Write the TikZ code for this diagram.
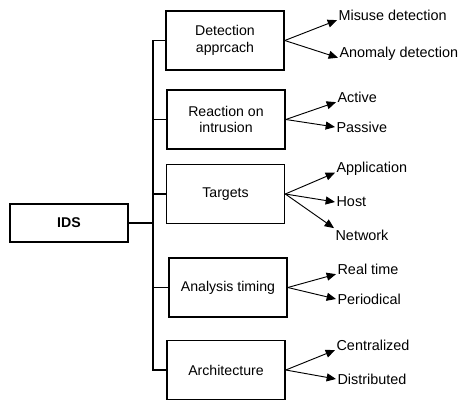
\documentclass[tikz,border=0pt]{standalone}
\usepackage{fontspec}
\setmainfont{Liberation Sans}
\usepackage{tikz}
\usetikzlibrary{arrows.meta}

\begin{document}
\begin{tikzpicture}[x=0.75pt, y=-0.75pt,
    catbox/.style={draw, line width=1.2pt, rectangle, minimum width=88.5pt, minimum height=44pt, align=center, font=\fontsize{10.6}{12.5}\selectfont},
    leaf/.style={anchor=west, inner sep=1pt, font=\fontsize{10.8}{12}\selectfont},
    branch/.style={-{Triangle[length=7pt, width=6pt]}, line width=0.7pt}]
      \useasboundingbox (0,0) rectangle (458,403);
      \node[draw, line width=1.2pt, rectangle, minimum width=88.5pt, minimum height=28.5pt, font=\fontsize{10.6}{12}\selectfont\bfseries] (ids) at (69,223) {IDS};
      \coordinate (trunk) at (153,223);
      \node[catbox] (det) at (225,40.5) {Detection\\apprcach};
      \node[catbox] (reac) at (226,119.5) {Reaction on\\intrusion};
      \node[catbox] (targ) at (225.5,194) {Targets};
      \node[catbox] (anal) at (228,287.5) {Analysis timing};
      \node[catbox] (arch) at (226,370) {Architecture};
      \draw[line width=1.4pt] (ids.east) -- (ids.east -| trunk);
      \draw[line width=1.4pt] (det.west) -| (trunk |- arch.west) -- (arch.west);
      \draw[line width=1pt] (reac.west) -- (reac.west -| trunk);
      \draw[line width=1pt] (targ.west) -- (targ.west -| trunk);
      \draw[line width=1pt] (anal.west) -- (anal.west -| trunk);
      \node[leaf] (misuse) at (337,15) {Misuse detection};
      \node[leaf] (anomaly) at (338,54) {Anomaly detection};
      \node[leaf] (active) at (336,97) {Active};
      \node[leaf] (passive) at (335,127) {Passive};
      \node[leaf] (app) at (335,169) {Application};
      \node[leaf] (host) at (335,202) {Host};
      \node[leaf] (net) at (334,235) {Network};
      \node[leaf] (real) at (336,269) {Real time};
      \node[leaf] (period) at (336,299) {Periodical};
      \node[leaf] (central) at (335,345) {Centralized};
      \node[leaf] (distrib) at (336,379) {Distributed};
      \draw[branch] (det.east) -- (misuse.base west);
      \draw[branch] (det.east) -- (anomaly.base west);
      \draw[branch] (reac.east) -- (active.base west);
      \draw[branch] (reac.east) -- (passive.west);
      \draw[branch] (targ.east) -- (app.base west);
      \draw[branch] (targ.east) -- (host.west);
      \draw[branch] (targ.east) -- (net.north west);
      \draw[branch] (anal.east) -- (real.base west);
      \draw[branch] (anal.east) -- (period.west);
      \draw[branch] (arch.east) -- (central.base west);
      \draw[branch] (arch.east) -- (distrib.west);
    \end{tikzpicture}
\end{document}
